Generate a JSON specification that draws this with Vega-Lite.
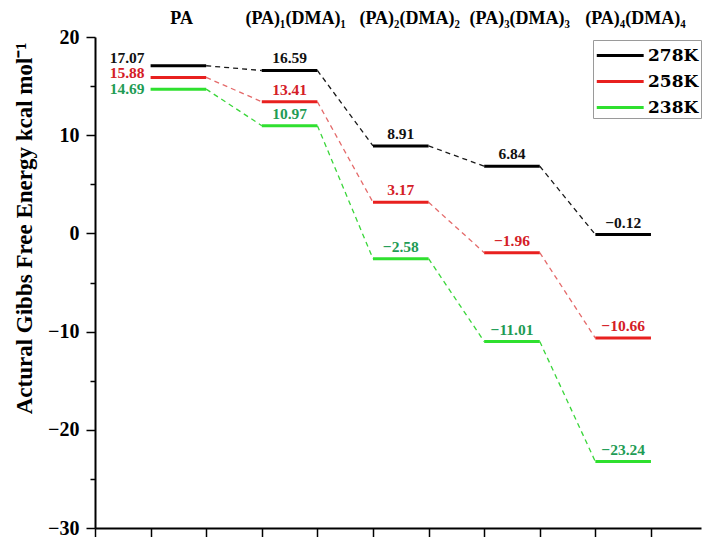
{
  "$schema": "https://vega.github.io/schema/vega-lite/v6.json",
  "width": 606,
  "height": 491,
  "autosize": {"type": "none"},
  "padding": {"left": 95, "top": 37, "right": 1, "bottom": 9},
  "background": "white",
  "config": {
    "view": {"stroke": null},
    "font": "Liberation Serif",
    "axis": {"grid": false, "domainColor": "black", "tickColor": "black", "labelColor": "black", "titleColor": "black"},
    "legend": {"labelFont": "DejaVu Serif", "labelFontWeight": "bold", "labelFontSize": 17, "labelColor": "black"}
  },
  "data": {
    "values": [
      {"pos": 0, "T": "278K", "G": 17.07},
      {"pos": 1, "T": "278K", "G": 16.59},
      {"pos": 2, "T": "278K", "G": 8.91},
      {"pos": 3, "T": "278K", "G": 6.84},
      {"pos": 4, "T": "278K", "G": -0.12},
      {"pos": 0, "T": "258K", "G": 15.88},
      {"pos": 1, "T": "258K", "G": 13.41},
      {"pos": 2, "T": "258K", "G": 3.17},
      {"pos": 3, "T": "258K", "G": -1.96},
      {"pos": 4, "T": "258K", "G": -10.66},
      {"pos": 0, "T": "238K", "G": 14.69},
      {"pos": 1, "T": "238K", "G": 10.97},
      {"pos": 2, "T": "238K", "G": -2.58},
      {"pos": 3, "T": "238K", "G": -11.01},
      {"pos": 4, "T": "238K", "G": -23.24}
    ]
  },
  "transform": [
    {"calculate": "2 * datum.pos + 1", "as": "x0"},
    {"calculate": "datum.x0 + 1", "as": "x1"},
    {"calculate": "datum.x0 + 0.5", "as": "xm"},
    {"calculate": "datum.x0 + 2", "as": "xn"},
    {"window": [{"op": "lead", "field": "G", "as": "Gnext"}], "groupby": ["T"], "sort": [{"field": "pos", "order": "ascending"}]}
  ],
  "encoding": {
    "y": {
      "field": "G",
      "type": "quantitative",
      "scale": {"domain": [-30, 20], "nice": false, "zero": false},
      "axis": {
        "title": "Actural Gibbs Free Energy kcal mol⁻¹",
        "titleFont": "Liberation Serif",
        "titleFontWeight": "bold",
        "titleFontSize": 23,
        "titleAngle": 270,
        "titleBaseline": "alphabetic",
        "titleX": -64,
        "titleY": 191,
        "values": [-30, -25, -20, -15, -10, -5, 0, 5, 10, 15, 20],
        "labelExpr": "datum.value % 10 === 0 ? datum.label : ''",
        "labelOverlap": false,
        "labelFont": "Liberation Serif",
        "labelFontWeight": "bold",
        "labelFontSize": 20,
        "labelPadding": 7,
        "tickSize": {"condition": {"test": "datum.value % 10 === 0", "value": 9}, "value": 5},
        "tickWidth": 1.5,
        "domainWidth": 2
      }
    }
  },
  "layer": [
    {
      "transform": [{"filter": "isValid(datum.Gnext)"}],
      "mark": {"type": "rule", "strokeDash": [5, 4], "strokeWidth": 1.3, "clip": false},
      "encoding": {
        "x": {
          "field": "x1",
          "type": "quantitative",
          "scale": {"domain": [0, 10.9], "nice": false, "zero": false},
          "axis": {
            "orient": "bottom",
            "title": null,
            "values": [0, 1, 2, 3, 4, 5, 6, 7, 8, 9, 10],
            "labels": false,
            "tickSize": 9,
            "tickWidth": 1.5,
            "domainWidth": 2
          }
        },
        "x2": {"field": "xn"},
        "y2": {"field": "Gnext"},
        "color": {
          "field": "T",
          "type": "nominal",
          "scale": {"domain": ["278K", "258K", "238K"], "range": ["#1a1a1a", "#e46a6a", "#3ad63a"]},
          "legend": null
        }
      }
    },
    {
      "mark": {"type": "rule", "strokeWidth": 3},
      "encoding": {
        "x": {
          "field": "x0",
          "type": "quantitative",
          "axis": {
            "orient": "top",
            "title": null,
            "values": [1.55, 3.6, 5.65, 7.63, 9.71],
            "labelExpr": "datum.value < 2 ? 'PA' : datum.value < 4 ? '(PA)₁(DMA)₁' : datum.value < 6 ? '(PA)₂(DMA)₂' : datum.value < 8 ? '(PA)₃(DMA)₃' : '(PA)₄(DMA)₄'",
            "labelFont": "Liberation Serif",
            "labelFontWeight": "bold",
            "labelFontSize": 18,
            "labelPadding": 10,
            "labelOverlap": false,
            "labelFlush": false,
            "labelBound": false,
            "domain": false,
            "ticks": false
          }
        },
        "x2": {"field": "x1"},
        "color": {
          "field": "T",
          "type": "nominal",
          "scale": {"domain": ["278K", "258K", "238K"], "range": ["#000000", "#e8201f", "#2fe02f"]},
          "legend": {
            "title": null,
            "orient": "none",
            "legendX": 498,
            "legendY": 3,
            "symbolType": "M-1,0H3",
            "symbolSize": 550,
            "symbolStrokeWidth": 3,
            "symbolFillColor": "transparent",
            "labelFont": "DejaVu Serif",
            "labelFontWeight": "bold",
            "labelFontSize": 17,
            "labelColor": "black",
            "labelOffset": 26,
            "labelLimit": 200,
            "rowPadding": 4,
            "padding": 2,
            "strokeColor": "#9a9a9a",
            "fillColor": "white"
          }
        }
      }
    },
    {
      "transform": [{"filter": "datum.pos > 0"}],
      "mark": {"type": "text", "font": "Liberation Serif", "fontWeight": "bold", "fontSize": 15.5, "baseline": "alphabetic", "align": "center", "dy": -7},
      "encoding": {
        "x": {"field": "xm", "type": "quantitative", "axis": null},
        "text": {"field": "G", "type": "quantitative", "format": ".2f"},
        "color": {
          "field": "T",
          "type": "nominal",
          "scale": {"domain": ["278K", "258K", "238K"], "range": ["#111111", "#d42027", "#1f9c55"]},
          "legend": null
        }
      }
    },
    {
      "transform": [{"filter": "datum.pos === 0 && datum.T === '278K'"}],
      "mark": {"type": "text", "font": "Liberation Serif", "fontWeight": "bold", "fontSize": 15.5, "baseline": "middle", "align": "right", "dx": -6, "dy": -8, "color": "#111111"},
      "encoding": {
        "x": {"field": "x0", "type": "quantitative", "axis": null},
        "text": {"field": "G", "type": "quantitative", "format": ".2f"}
      }
    },
    {
      "transform": [{"filter": "datum.pos === 0 && datum.T === '258K'"}],
      "mark": {"type": "text", "font": "Liberation Serif", "fontWeight": "bold", "fontSize": 15.5, "baseline": "middle", "align": "right", "dx": -6, "dy": -4, "color": "#d42027"},
      "encoding": {
        "x": {"field": "x0", "type": "quantitative", "axis": null},
        "text": {"field": "G", "type": "quantitative", "format": ".2f"}
      }
    },
    {
      "transform": [{"filter": "datum.pos === 0 && datum.T === '238K'"}],
      "mark": {"type": "text", "font": "Liberation Serif", "fontWeight": "bold", "fontSize": 15.5, "baseline": "middle", "align": "right", "dx": -6, "dy": 0, "color": "#1f9c55"},
      "encoding": {
        "x": {"field": "x0", "type": "quantitative", "axis": null},
        "text": {"field": "G", "type": "quantitative", "format": ".2f"}
      }
    }
  ],
  "resolve": {"axis": {"x": "independent"}, "scale": {"color": "independent"}}
}
